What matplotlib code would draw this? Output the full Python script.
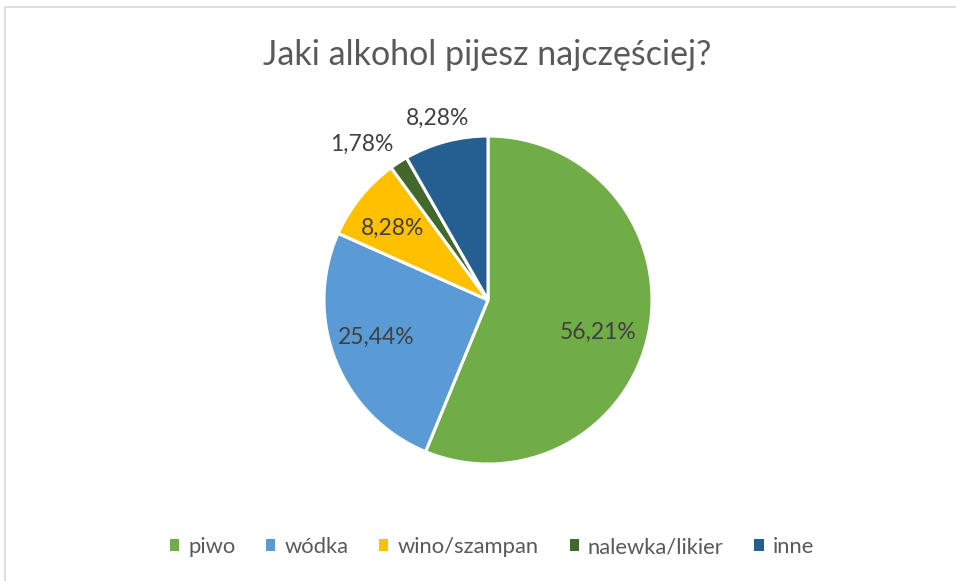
import matplotlib
matplotlib.use("Agg")
import matplotlib.pyplot as plt
from matplotlib.patches import Rectangle
import numpy as np

categories = ["piwo", "wódka", "wino/szampan", "nalewka/likier", "inne"]
values = [56.21, 25.44, 8.28, 1.78, 8.28]
colors = ["#70AD47", "#5B9BD5", "#FFC000", "#43682B", "#255E91"]
label_dist = [0.70, 0.72, 0.73, 1.22, 1.15]
label_shift = [-5, -3.5, 2, 6, 0.5]
title = "Jaki alkohol pijesz najczęściej?"

W, H = 956, 581
fig = plt.figure(figsize=(W / 100, H / 100), dpi=100)
plt.rcParams['font.family'] = ['Lato', 'DejaVu Sans']
txt = "#595959"

# frame
fig.patches.append(Rectangle((5 / W, -0.01), 1.0, (H - 7) / H + 0.01, transform=fig.transFigure,
                             fill=False, edgecolor="#D9D9D9", linewidth=1.2))

fig.text(487 / W, 1 - 55 / H, title, ha="center", va="center", fontsize=24.5, color=txt)

cx, cy, r = 488, 300, 164
ax = fig.add_axes([(cx - r) / W, (H - cy - r) / H, 2 * r / W, 2 * r / H])
wedges, _ = ax.pie(values, colors=colors, startangle=90, counterclock=False,
                   wedgeprops=dict(edgecolor="white", linewidth=2.2))
ax.set_xlim(-1, 1)
ax.set_ylim(-1, 1)
ax.set_aspect("auto")
ax.axis("off")

for w, v, d, s in zip(wedges, values, label_dist, label_shift):
    ang = np.deg2rad((w.theta1 + w.theta2) / 2 + s)
    ax.text(d * np.cos(ang), d * np.sin(ang), f"{v:.2f}%".replace(".", ","),
            ha="center", va="center", fontsize=16.5, color="#404040")

handles = [Rectangle((0, 0), 1, 1, facecolor=c, edgecolor="none") for c in colors]
fig.legend(handles, categories, loc="center", bbox_to_anchor=(492 / W, 1 - 547 / H),
           ncol=5, frameon=False, fontsize=15.8, handlelength=0.42, handleheight=0.42,
           handletextpad=0.42, columnspacing=1.4, labelcolor=txt)

fig.savefig("out.png", dpi=100)
